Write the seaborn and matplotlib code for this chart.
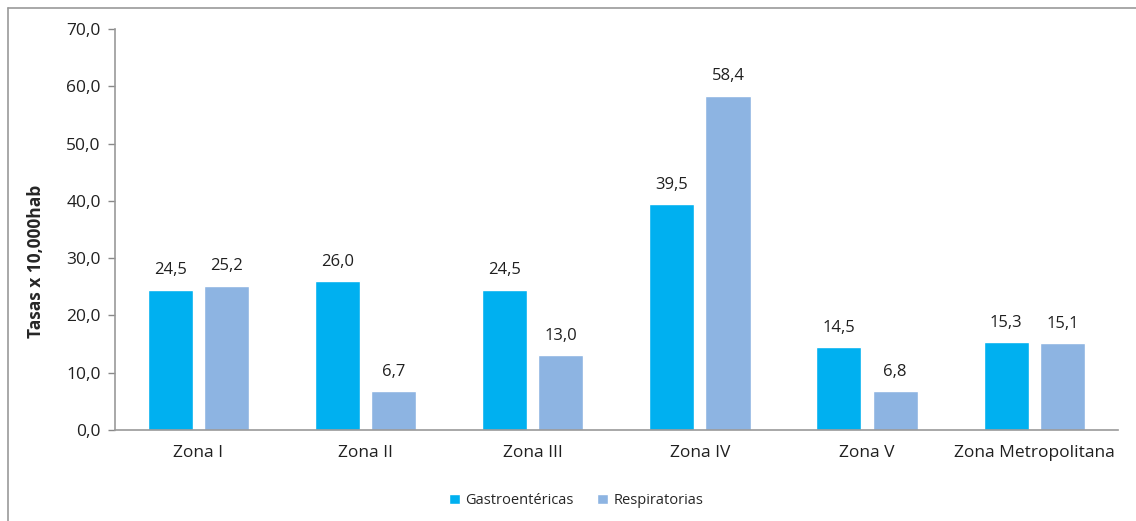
import matplotlib
matplotlib.use("Agg")
import matplotlib.pyplot as plt
import matplotlib.lines as mlines
import pandas as pd
import seaborn as sns

# data
zonas = ["Zona I", "Zona II", "Zona III", "Zona IV", "Zona V", "Zona Metropolitana"]
gastro = [24.5, 26.0, 24.5, 39.5, 14.5, 15.3]
respir = [25.2, 6.7, 13.0, 58.4, 6.8, 15.1]
series = ["Gastroentéricas", "Respiratorias"]
colores = ["#00B0F0", "#8DB4E2"]
yticks = [0, 10, 20, 30, 40, 50, 60, 70]

df = pd.DataFrame({
    "zona": zonas * 2,
    "tasa": gastro + respir,
    "tipo": [series[0]] * len(zonas) + [series[1]] * len(zonas),
})

sns.set_style("white")
plt.rcParams["font.family"] = ["Open Sans", "DejaVu Sans"]

fig = plt.figure(figsize=(11.36, 5.21), dpi=100)
ax = fig.add_axes([0.101, 0.175, 0.883, 0.769])

sns.barplot(data=df, x="zona", y="tasa", hue="tipo", palette=colores,
            width=0.673, gap=0.2, ax=ax, saturation=1, errorbar=None)

# value labels
for cont in ax.containers:
    ax.bar_label(cont, labels=[f"{v:.1f}".replace(".", ",") for v in cont.datavalues],
                 padding=8, fontsize=12, color="#202020")

ax.set_ylim(0, 70)
ax.set_yticks(yticks)
ax.set_yticklabels([f"{v:.1f}".replace(".", ",") for v in yticks], fontsize=12.5, color="#202020")
ax.set_xlim(-0.5, len(zonas) - 0.5)
ax.tick_params(axis="x", labelsize=12.5, colors="#202020", length=0, pad=11)
ax.tick_params(axis="y", direction="out", length=5, width=1, color="#888888", left=True, pad=5)
ax.set_xlabel("")
ax.set_ylabel("Tasas x 10,000hab", fontsize=12.5, fontweight="bold")
ax.yaxis.set_label_coords(-0.07, 0.42)

for s in ["top", "right"]:
    ax.spines[s].set_visible(False)
for s in ["left", "bottom"]:
    ax.spines[s].set_color("#999999")
    ax.spines[s].set_linewidth(1.2)

leg = ax.legend(loc="upper center", bbox_to_anchor=(0.46, -0.125), ncol=2, frameon=False,
                fontsize=10.5, handlelength=0.75, handleheight=0.75, handletextpad=0.4,
                columnspacing=1.6)

# outer chart frame (left + top)
fig.add_artist(mlines.Line2D([8 / 1136, 8 / 1136], [0, 1 - 8 / 521], color="#999999", lw=1.2))
fig.add_artist(mlines.Line2D([8 / 1136, 1], [1 - 8 / 521, 1 - 8 / 521], color="#999999", lw=1.2))

plt.savefig("out.png", dpi=100)
